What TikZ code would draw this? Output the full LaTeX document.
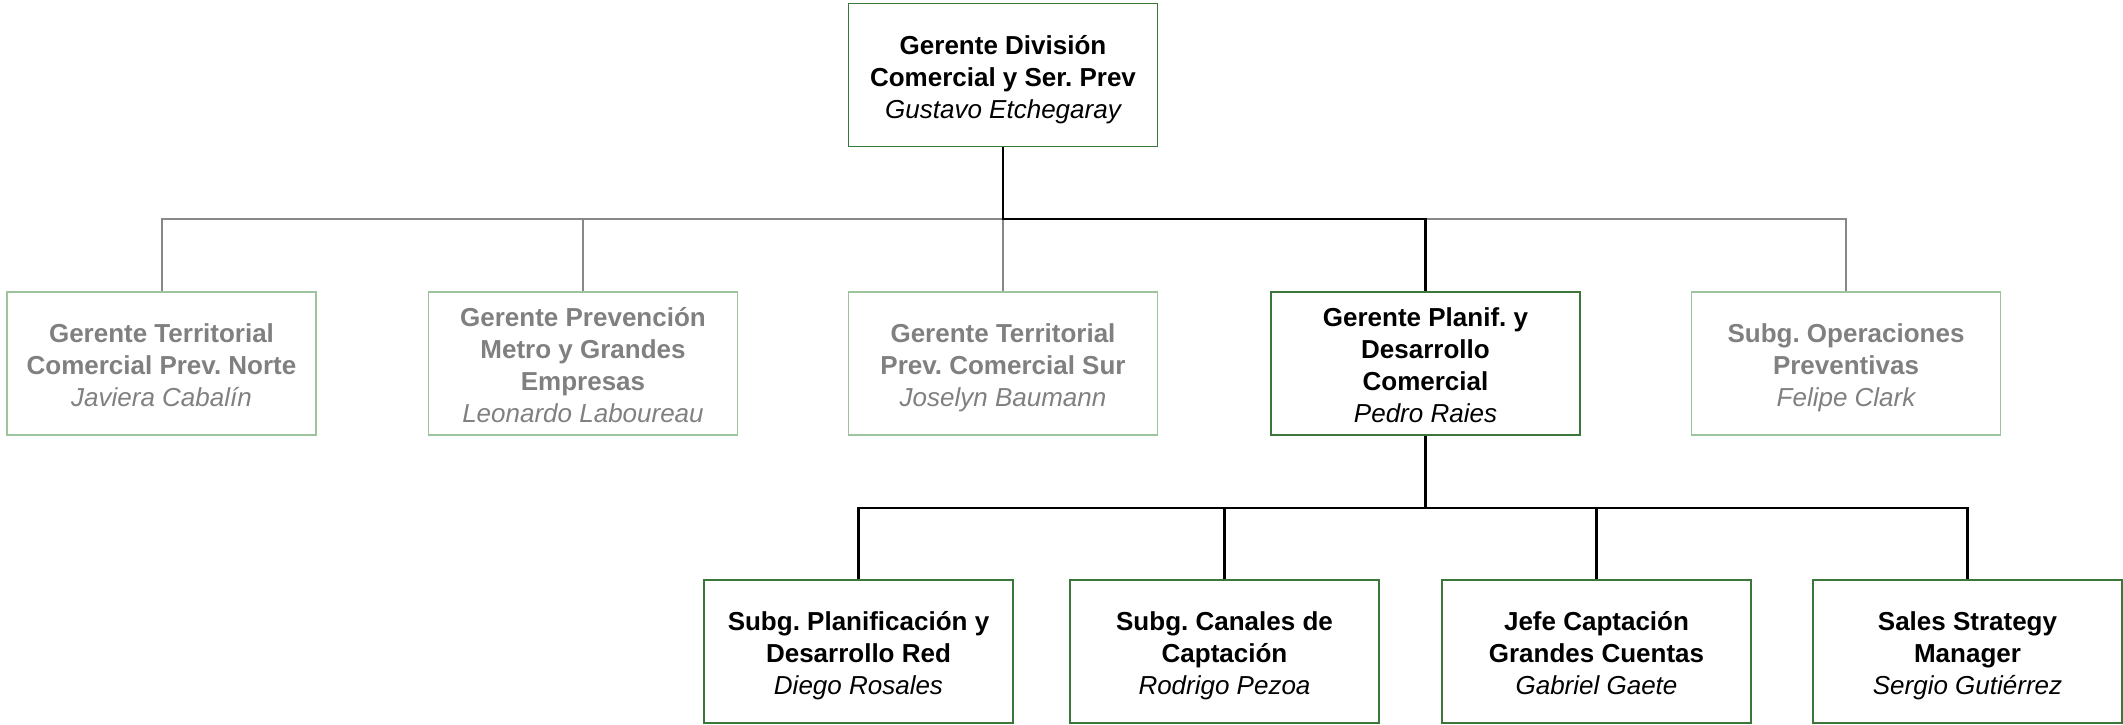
\documentclass[tikz,border=0pt]{standalone}
\usepackage{fontspec}
\setmainfont{Liberation Sans}
\frenchspacing
\definecolor{dkgreen}{HTML}{3B763B}
\definecolor{ltgreen}{HTML}{9DC49D}
\definecolor{txtgray}{HTML}{808080}
\definecolor{lngray}{HTML}{888888}
\tikzset{
  box/.style={draw=dkgreen, line width=1.5pt, minimum width=309pt, minimum height=143pt,
    align=center, inner sep=0pt, text=black,
    font=\fontsize{26}{32}\selectfont\bfseries},
  dimbox/.style={box, draw=ltgreen, text=txtgray},
  blk/.style={draw=black, line width=2.5pt},
  gry/.style={draw=lngray, line width=2pt},
}
\newcommand{\fl}{\rule{0pt}{29pt}}
\newcommand{\pname}[1]{{\mdseries\itshape #1\rule[-7pt]{0pt}{7pt}}}
\begin{document}
\begin{tikzpicture}[x=1pt,y=-1pt]
\useasboundingbox (0,0) rectangle (2123,724);
\node[box] (top) at (1003,75) {\fl Gerente División\\Comercial y Ser. Prev\\\pname{Gustavo Etchegaray}};
\node[dimbox] (m1) at (161.5,363.5) {\fl Gerente Territorial\\Comercial Prev. Norte\\\pname{Javiera Cabalín}};
\node[dimbox] (m2) at (583,363.5) {\fl Gerente Prevención\\Metro y Grandes\\Empresas\\\pname{Leonardo Laboureau}};
\node[dimbox] (m3) at (1003,363.5) {\fl Gerente Territorial\\Prev. Comercial Sur\\\pname{Joselyn Baumann}};
\node[box] (m4) at (1425.5,363.5) {\fl Gerente Planif. y\\Desarrollo\\Comercial\\\pname{Pedro Raies}};
\node[dimbox] (m5) at (1846,363.5) {\fl Subg. Operaciones\\Preventivas\\\pname{Felipe Clark}};
\node[box] (b1) at (858.5,651.5) {\fl Subg. Planificación y\\Desarrollo Red\\\pname{Diego Rosales}};
\node[box] (b2) at (1224.5,651.5) {\fl Subg. Canales de\\Captación\\\pname{Rodrigo Pezoa}};
\node[box] (b3) at (1596.5,651.5) {\fl Jefe Captación\\Grandes Cuentas\\\pname{Gabriel Gaete}};
\node[box] (b4) at (1967.5,651.5) {\fl Sales Strategy\\Manager\\\pname{Sergio Gutiérrez}};
\coordinate (busA) at (1003,219);
\coordinate (busB) at (1425.5,508);
% grey bus
\draw[gry] (m1.north) -- (m1.north |- busA) -- (m5.north |- busA) -- (m5.north);
\draw[gry] (m2.north) -- (m2.north |- busA);
\draw[gry] (m3.north) -- (m3.north |- busA);
% black path to active manager
\draw[blk] (top.south) -- (busA) -| (m4.north);
% lower bus
\draw[blk] (m4.south) -- (busB);
\draw[blk] (b1.north) -- (b1.north |- busB) -- (b4.north |- busB) -- (b4.north);
\draw[blk] (b2.north) -- (b2.north |- busB);
\draw[blk] (b3.north) -- (b3.north |- busB);
\end{tikzpicture}
\end{document}
